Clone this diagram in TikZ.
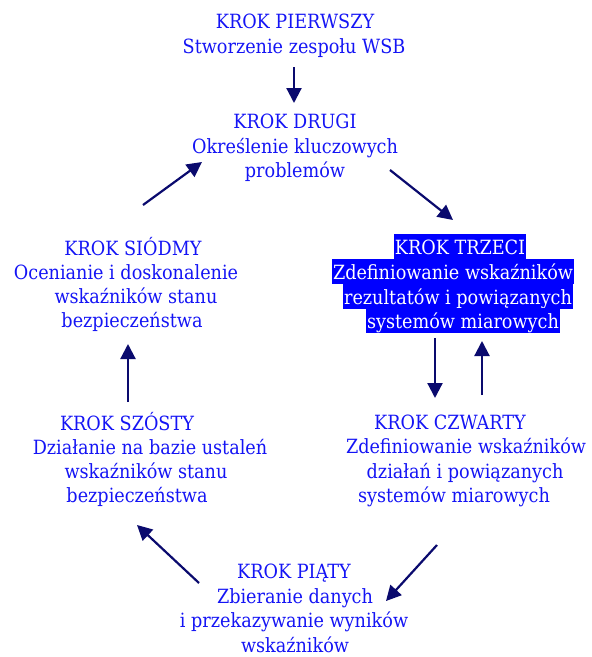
\documentclass[tikz,border=0pt]{standalone}
\usepackage{fontspec}
\setmainfont{DejaVu Serif Condensed}
\usetikzlibrary{arrows.meta}
\definecolor{txtblue}{RGB}{20,20,245}
\definecolor{hlblue}{RGB}{0,0,255}
\definecolor{navyarr}{RGB}{10,10,110}
\tikzset{
  ln/.style={anchor=base, inner sep=0pt, text=txtblue, font=\fontsize{19.6}{24}\selectfont},
  hl/.style={anchor=base, inner sep=0pt, inner xsep=1pt, text height=20pt, text depth=5pt,
    fill=hlblue, text=white, font=\fontsize{19.6}{24}\selectfont},
  arr/.style={draw=navyarr, line width=2.2pt, -{Triangle[width=15pt,length=15pt]}}
}
\begin{document}
\begin{tikzpicture}[x=1pt,y=-1pt]
\path[use as bounding box, fill=white] (0,0) rectangle (592,657);
% step 1
\node[ln] (a1) at (295,28) {KROK PIERWSZY};
\node[ln] (a2) at (294,53) {Stworzenie zespołu WSB};
% step 2
\node[ln] (b1) at (295,128) {KROK DRUGI};
\node[ln] (b2) at (295,153) {Określenie kluczowych};
\node[ln] (b3) at (295,177) {problemów};
% step 3
\node[hl] (c1) at (460,254) {KROK TRZECI};
\node[hl] (c2) at (453,279) {Zdefiniowanie wskaźników};
\node[hl] (c3) at (458,304) {rezultatów i powiązanych};
\node[hl] (c4) at (463,328) {systemów miarowych};
% step 4
\node[ln] (d1) at (450,429) {KROK CZWARTY};
\node[ln] (d2) at (466,453) {Zdefiniowanie wskaźników};
\node[ln] (d3) at (465,478) {działań i powiązanych};
\node[ln] (d4) at (454,502) {systemów miarowych};
% step 5
\node[ln] (e1) at (294,578) {KROK PIĄTY};
\node[ln] (e2) at (295,603) {Zbieranie danych};
\node[ln] (e3) at (294,627) {i przekazywanie wyników};
\node[ln] (e4) at (295,652) {wskaźników};
% step 6
\node[ln] (f1) at (127,430) {KROK SZÓSTY};
\node[ln] (f2) at (150,454) {Działanie na bazie ustaleń};
\node[ln] (f3) at (146,478) {wskaźników stanu};
\node[ln] (f4) at (137,502) {bezpieczeństwa};
% step 7
\node[ln] (g1) at (133,255) {KROK SIÓDMY};
\node[ln] (g2) at (126,279) {Ocenianie i doskonalenie};
\node[ln] (g3) at (136,303) {wskaźników stanu};
\node[ln] (g4) at (132,327) {bezpieczeństwa};
% arrow end points
\coordinate (p1s) at (294,67);  \coordinate (p1e) at (294,103);
\coordinate (p2s) at (390,170); \coordinate (p2e) at (453,220);
\coordinate (p3s) at (435,338); \coordinate (p3e) at (435,398);
\coordinate (p4s) at (482,395); \coordinate (p4e) at (482,341);
\coordinate (p5s) at (437,545); \coordinate (p5e) at (386,601);
\coordinate (p6s) at (199,583); \coordinate (p6e) at (137,525);
\coordinate (p7s) at (128,402); \coordinate (p7e) at (128,344);
\coordinate (p8s) at (143,205); \coordinate (p8e) at (202,162);
\draw[arr] (p1s) -- (p1e);
\draw[arr] (p2s) -- (p2e);
\draw[arr] (p3s) -- (p3e);
\draw[arr] (p4s) -- (p4e);
\draw[arr] (p5s) -- (p5e);
\draw[arr] (p6s) -- (p6e);
\draw[arr] (p7s) -- (p7e);
\draw[arr] (p8s) -- (p8e);
\end{tikzpicture}
\end{document}
